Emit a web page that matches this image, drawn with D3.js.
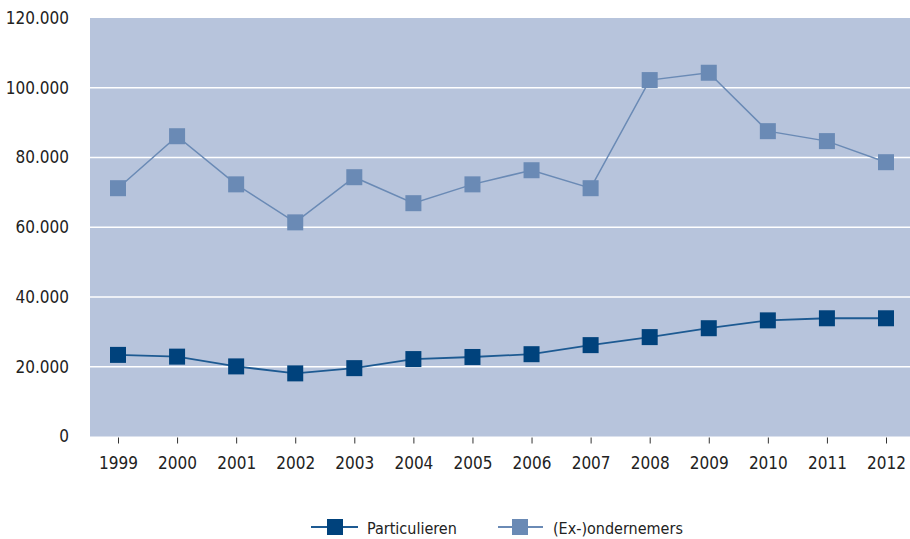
<!DOCTYPE html>
<html>
<head>
<meta charset="utf-8">
<script src="https://cdn.jsdelivr.net/npm/d3@7"></script>
<style>
  html, body { margin: 0; padding: 0; background: #ffffff; }
  svg { display: block; }
  text { font-family: "DejaVu Sans Condensed", "DejaVu Sans", sans-serif; font-stretch: condensed; fill: #222222; }
</style>
</head>
<body>
<svg id="chart" width="910" height="539"></svg>
<script>
const years = ["1999","2000","2001","2002","2003","2004","2005","2006","2007","2008","2009","2010","2011","2012"];
const particulieren = [23400, 22900, 20100, 18100, 19600, 22200, 22800, 23600, 26200, 28500, 31050, 33300, 33900, 33900];
const ondernemers = [71200, 86100, 72300, 61400, 74350, 66900, 72300, 76350, 71200, 102200, 104300, 87550, 84700, 78650];
const yTicks = [0, 20000, 40000, 60000, 80000, 100000, 120000];
const seriesNames = ["Particulieren", "(Ex-)ondernemers"];

const colors = {
  bg: "#b7c4dc",
  dark: "#00427c",
  darkLine: "#1d5a92",
  light: "#6a8ab5",
  lightLine: "#6a8ab5"
};
const FONT = '"DejaVu Sans Condensed", "DejaVu Sans", sans-serif';

const svg = d3.select("#chart");
const plot = { left: 90, right: 915, top: 18, bottom: 436.5 };

const x = d3.scalePoint().domain(years).range([118, 886]);
const y = d3.scaleLinear().domain([0, 120000]).range([plot.bottom, plot.top]);

// background
svg.append("rect")
  .attr("x", plot.left).attr("y", plot.top)
  .attr("width", plot.right - plot.left).attr("height", plot.bottom - plot.top)
  .attr("fill", colors.bg);

// gridlines
svg.append("g").selectAll("line")
  .data(yTicks.filter(d => d > 0 && d < 120000))
  .join("line")
  .attr("x1", plot.left).attr("x2", plot.right)
  .attr("y1", d => y(d)).attr("y2", d => y(d))
  .attr("stroke", "#ffffff").attr("stroke-width", 1.6);

// y axis labels
const fmt = d => d === 0 ? "0" : d3.format(",")(d).replace(/,/g, ".");
const yAxis = d3.axisLeft(y).tickValues(yTicks).tickFormat(fmt).tickSize(0).tickPadding(0);
const gy = svg.append("g").attr("transform", "translate(69,0)").call(yAxis);
gy.select(".domain").remove();
gy.selectAll("text").attr("font-size", 17).attr("font-family", FONT).attr("fill", "#222");

// x axis
const xAxis = d3.axisBottom(x).tickSize(6).tickPadding(13);
const gx = svg.append("g").attr("transform", `translate(0,${plot.bottom + 1})`).call(xAxis);
gx.select(".domain").remove();
gx.selectAll("line").attr("stroke", "#333").attr("stroke-width", 1);
gx.selectAll("text").attr("font-size", 17).attr("font-family", FONT).attr("fill", "#222");

const line = d3.line().x((d, i) => x(years[i])).y(d => y(d));

function drawSeries(values, lineColor, markerColor, lw) {
  svg.append("path").datum(values)
    .attr("d", line).attr("fill", "none")
    .attr("stroke", lineColor).attr("stroke-width", lw);
  svg.append("g").selectAll("rect").data(values).join("rect")
    .attr("x", (d, i) => x(years[i]) - 8)
    .attr("y", d => y(d) - 8)
    .attr("width", 16).attr("height", 16)
    .attr("fill", markerColor);
}
drawSeries(ondernemers, colors.lightLine, colors.light, 1.5);
drawSeries(particulieren, colors.darkLine, colors.dark, 1.8);

// legend
const legend = [
  { name: seriesNames[0], cx: 335, lx1: 311, lx2: 358, tx: 367, line: colors.darkLine, mark: colors.dark },
  { name: seriesNames[1], cx: 520, lx1: 498, lx2: 543, tx: 553, line: colors.lightLine, mark: colors.light }
];
const lg = svg.append("g");
legend.forEach(l => {
  lg.append("line").attr("x1", l.lx1).attr("x2", l.lx2).attr("y1", 527).attr("y2", 527)
    .attr("stroke", l.line).attr("stroke-width", 1.8);
  lg.append("rect").attr("x", l.cx - 8).attr("y", 519).attr("width", 16).attr("height", 16).attr("fill", l.mark);
  lg.append("text").attr("x", l.tx).attr("y", 534).attr("font-size", 16).attr("font-family", FONT).text(l.name);
});
</script>
</body>
</html>
